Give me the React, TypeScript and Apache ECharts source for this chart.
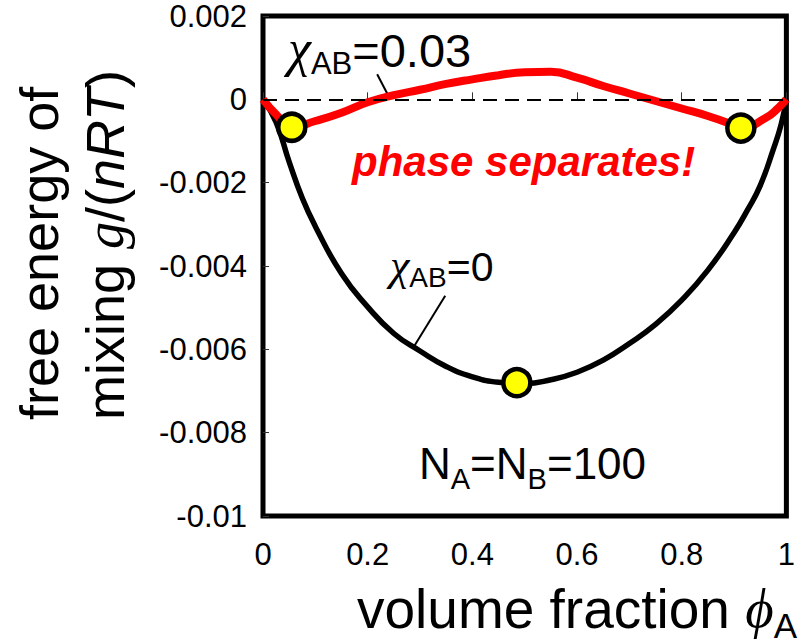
import React, { useEffect, useRef } from "react";
import * as echarts from "echarts";

// ---- data ----
const phiBlack = [0, 0.025, 0.05, 0.075, 0.1, 0.15, 0.2, 0.25, 0.3, 0.35, 0.4, 0.45, 0.5, 0.55, 0.6, 0.65, 0.7, 0.75, 0.8, 0.85, 0.9, 0.925, 0.95, 0.975, 0.99, 1];
const gBlack = [0, -0.00055, -0.0015, -0.00237, -0.00305, -0.00418, -0.00498, -0.00562, -0.00604, -0.00641, -0.00666, -0.00679, -0.00682, -0.00673, -0.00655, -0.00626, -0.00586, -0.0054, -0.00482, -0.0041, -0.0032, -0.00267, -0.00207, -0.0012, -0.0006, 0];

const phiRed = [0, 0.025, 0.055, 0.1, 0.15, 0.2, 0.25, 0.3, 0.35, 0.4, 0.45, 0.5, 0.55, 0.6, 0.65, 0.7, 0.75, 0.8, 0.85, 0.9, 0.913, 0.96, 0.985, 1];
const gRed = [0, -0.00036, -0.00067, -0.00052, -0.00032, -0.00007, 0.0001, 0.00023, 0.00037, 0.00048, 0.00058, 0.00065, 0.00066, 0.00052, 0.00032, 0.00014, -0.00004, -0.00022, -0.0004, -0.00062, -0.00069, -0.00045, -0.0002, 0];

const phiDots = [0.055, 0.485, 0.913];
const gDots = [-0.00067, -0.0068, -0.00069];

const xTickValues = [0, 0.2, 0.4, 0.6, 0.8, 1];
const xTickText = ["0", "0.2", "0.4", "0.6", "0.8", "1"];
const yTickValues = [0.002, 0, -0.002, -0.004, -0.006, -0.008, -0.01];
const yTickText = ["0.002", "0", "-0.002", "-0.004", "-0.006", "-0.008", "-0.01"];

// leader-line anchors on the curves (data coords)
const anchorChi03 = [0.243, 0];
const anchorChi0 = [0.287, -0.00596];

const SANS = '"Liberation Sans", Arial, Helvetica, sans-serif';
const SERIF = '"Liberation Serif", "Times New Roman", serif';

type Seg = { t: string; size: number; fam?: string; style?: string; weight?: string; dy?: number; color?: string };

let ctx2d: CanvasRenderingContext2D | null = null;
function measure(text: string, font: string): number {
  if (!ctx2d) ctx2d = document.createElement("canvas").getContext("2d");
  ctx2d!.font = font;
  return ctx2d!.measureText(text).width;
}

function layout(x0: number, base: number, segs: Seg[]): any[] {
  const out: any[] = [];
  let x = x0;
  for (const s of segs) {
    const fam = s.fam || SANS;
    const style = s.style || "normal";
    const weight = s.weight || "normal";
    const font = `${style} ${weight} ${s.size}px ${fam}`;
    out.push({
      type: "text",
      x,
      y: base + (s.dy || 0) - 0.35 * s.size,
      silent: true,
      style: {
        text: s.t,
        fontSize: s.size,
        fontFamily: fam,
        fontStyle: style,
        fontWeight: weight,
        fill: s.color || "#000",
        textAlign: "left",
        textVerticalAlign: "middle",
        align: "left",
        verticalAlign: "middle",
      },
    });
    x += measure(s.t, font);
  }
  return out;
}

function findLabel(v: number, vals: number[], txt: string[]) {
  const i = vals.findIndex((t) => Math.abs(t - v) < 1e-9);
  return i >= 0 ? txt[i] : "";
}

export default function App() {
  const ref = useRef<HTMLDivElement>(null);
  useEffect(() => {
    document.body.style.margin = "0";
    const chart = echarts.init(ref.current!, undefined, { renderer: "svg" });
    const option: any = {
      animation: false,
      backgroundColor: "#fff",
      grid: { left: 263, right: 5, top: 16, bottom: 128, show: true, borderColor: "#000", borderWidth: 5, backgroundColor: "transparent" },
      xAxis: {
        type: "value",
        min: 0,
        max: 1,
        interval: 0.2,
        axisLine: { show: false },
        splitLine: { show: false },
        axisTick: { show: true, inside: true, length: 7, lineStyle: { color: "#333", width: 1 } },
        axisLabel: {
          color: "#000",
          fontSize: 31,
          fontFamily: SANS,
          margin: 23,
          formatter: (v: number) => findLabel(v, xTickValues, xTickText),
        },
      },
      yAxis: {
        type: "value",
        min: -0.01,
        max: 0.002,
        interval: 0.002,
        axisLine: { show: false },
        splitLine: { show: false },
        axisTick: { show: true, inside: true, length: 6, lineStyle: { color: "#333", width: 1 } },
        axisLabel: {
          color: "#000",
          fontSize: 31,
          fontFamily: SANS,
          margin: 16,
          padding: [8, 0, 0, 0],
          formatter: (v: number) => findLabel(v, yTickValues, yTickText),
        },
      },
      series: [
        {
          type: "line",
          name: "chi0",
          data: phiBlack.map((p, i) => [p, gBlack[i]]),
          showSymbol: false,
          smooth: 0.5,
          lineStyle: { color: "#000", width: 5.5 },
          z: 2,
          silent: true,
          markLine: {
            silent: true,
            symbol: ["none", "none"],
            label: { show: false },
            lineStyle: { color: "#000", width: 2, type: [14, 8] },
            data: [{ yAxis: 0 }],
          },
        },
        {
          type: "line",
          name: "chi003",
          data: phiRed.map((p, i) => [p, gRed[i]]),
          showSymbol: false,
          smooth: 0.5,
          lineStyle: { color: "#ff0000", width: 8 },
          z: 3,
          silent: true,
        },
        {
          type: "scatter",
          data: phiDots.map((p, i) => [p, gDots[i]]),
          symbolSize: 27,
          itemStyle: { color: "#ffff00", borderColor: "#000", borderWidth: 4.5, opacity: 1 },
          z: 5,
          silent: true,
        },
      ],
    };
    chart.setOption(option);

    const a1 = chart.convertToPixel({ gridIndex: 0 }, anchorChi03) as number[];
    const a2 = chart.convertToPixel({ gridIndex: 0 }, anchorChi0) as number[];

    const graphics: any[] = [];
    // chi_AB = 0.03
    graphics.push(
      ...layout(288, 67, [
        { t: "\u03c7", size: 52, fam: SERIF, style: "italic" },
        { t: "AB", size: 31, dy: 7 },
        { t: "=0.03", size: 47 },
      ])
    );
    graphics.push({ type: "line", silent: true, shape: { x1: a1[0] - 13, y1: a1[1] - 25, x2: a1[0], y2: a1[1] }, style: { stroke: "#000", lineWidth: 2 } });
    // chi_AB = 0
    graphics.push(
      ...layout(390, 281, [
        { t: "\u03c7", size: 44, fam: SERIF, style: "italic" },
        { t: "AB", size: 28, dy: 6 },
        { t: "=0", size: 41 },
      ])
    );
    graphics.push({ type: "line", silent: true, shape: { x1: a2[0] + 32, y1: a2[1] - 52, x2: a2[0], y2: a2[1] }, style: { stroke: "#000", lineWidth: 2 } });
    // phase separates!
    graphics.push(...layout(352, 176, [{ t: "phase separates!", size: 42, weight: "bold", style: "italic", color: "#ff0000" }]));
    // N_A = N_B = 100
    graphics.push(
      ...layout(419, 479, [
        { t: "N", size: 44 },
        { t: "A", size: 29, dy: 10 },
        { t: "=N", size: 44 },
        { t: "B", size: 29, dy: 10 },
        { t: "=100", size: 44 },
      ])
    );
    // x axis title
    graphics.push(
      ...layout(357, 628, [
        { t: "volume fraction ", size: 55 },
        { t: "\u03d5", size: 55, fam: SERIF, style: "italic" },
        { t: "A", size: 35, dy: 10 },
      ])
    );
    // y axis title (rotated)
    graphics.push({
      type: "group",
      x: 58,
      y: 420,
      rotation: Math.PI / 2,
      children: layout(0, 0, [{ t: "free energy of", size: 54 }]),
    });
    graphics.push({
      type: "group",
      x: 124,
      y: 420,
      rotation: Math.PI / 2,
      children: layout(0, 0, [
        { t: "mixing ", size: 54 },
        { t: "g", size: 54, fam: SERIF, style: "italic" },
        { t: "/(", size: 54 },
        { t: "nRT", size: 54, style: "italic" },
        { t: ")", size: 54 },
      ]),
    });
    chart.setOption({ graphic: { elements: graphics } });

    return () => chart.dispose();
  }, []);
  return <div ref={ref} style={{ width: 798, height: 644 }} />;
}
